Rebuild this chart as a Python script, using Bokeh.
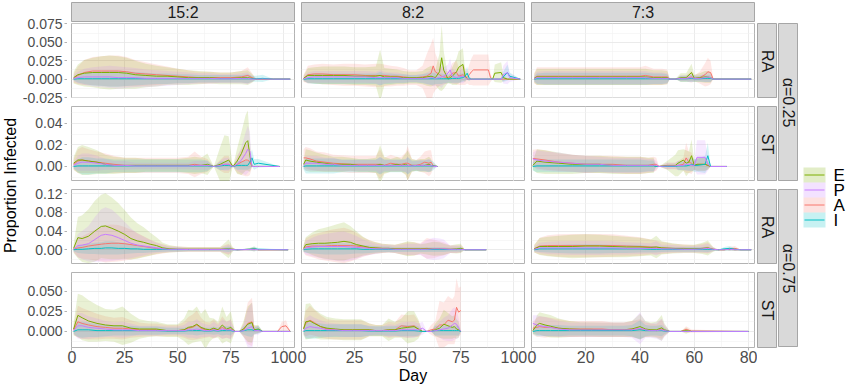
import math
from bokeh.plotting import figure
from bokeh.layouts import row, column
from bokeh.models import Range1d, FixedTicker, PrintfTickFormatter, ColumnDataSource
from bokeh.embed import file_html
from bokeh.resources import INLINE
from bokeh.core.properties import value

# ---------------- facets / labels ----------------
col_labels = ["15:2", "8:2", "7:3"]
row_labels = ["RA", "ST", "RA", "ST"]
alpha_labels = ["\u03b1=0.25", "\u03b1=0.75"]
legend_order = ["E", "P", "A", "I"]
draw_order = ["A", "E", "I", "P"]
colors = {"A": "#F8766D", "E": "#7CAE00", "I": "#00BFC4", "P": "#C77CFF"}
x_ticks = [[0, 25, 50, 75, 100], [0, 25, 50, 75, 100], [0, 20, 40, 60, 80]]
x_minor = [[12.5, 37.5, 62.5, 87.5], [12.5, 37.5, 62.5, 87.5], [10, 30, 50, 70]]
x_lims = [(0, 105), (0, 105), (0, 82.2)]
y_ticks = [[-0.025, 0.0, 0.025, 0.05, 0.075], [0.0, 0.02, 0.04], [0.0, 0.04, 0.08, 0.12], [0.0, 0.025, 0.05]]
y_minor = [[-0.0125, 0.0125, 0.0375, 0.0625], [-0.01, 0.01, 0.03, 0.05], [-0.02, 0.02, 0.06, 0.10], [-0.0125, 0.0125, 0.0375, 0.0625]]
y_fmt = ["%.3f", "%.2f", "%.2f", "%.3f"]
y_lims = [(-0.0263, 0.0755), (-0.014, 0.0558), (-0.0315, 0.129), (-0.020, 0.0733)]

# ---------------- data: 15:2, alpha=0.25, RA ----------------
day_00 = [1,3,6,10,14,18,22,26,30,35, 40,45,50,55,60,65,70,75,80,83, 85,87,90,95,103]
E_00 = [0.002,0.006,0.008,0.009,0.009,0.009,0.009,0.008,0.006,0.005, 0.004,0.004,0.003,0.002,0.002,0.002,0.001,0.001,0.002,0.002, 0.001,0,0,0,0]
P_00 = [0.001,0.002,0.003,0.003,0.003,0.003,0.002,0.002,0.002,0.001, 0.001,0.001,0.001,0.001,0.001,0.001,0.0005,0.0005,0.001,0.001, 0,0,0,0,0]
A_00 = [0.001,0.005,0.009,0.011,0.011,0.011,0.011,0.010,0.008,0.007, 0.006,0.005,0.004,0.003,0.002,0.002,0.002,0.002,0.003,0.005, 0.002,0,0,0,0]
I_00 = [0,0.0005,0.0005,0.0005,0.0005,0.0005,0.0005,0.0005,0.0005,0.0005, 0.0005,0.0005,0.0005,0.0005,0.0005,0.0005,0.0005,0.0005,0.0005,0.0005, 0.0005,0.0005,0.001,0,0]
Esd_00 = [0.008,0.014,0.018,0.020,0.022,0.023,0.022,0.021,0.019,0.016, 0.014,0.012,0.011,0.010,0.009,0.008,0.008,0.008,0.009,0.010, 0.006,0,0,0,0]
Psd_00 = [0.004,0.008,0.011,0.013,0.014,0.015,0.015,0.014,0.013,0.012, 0.011,0.010,0.009,0.008,0.007,0.007,0.006,0.006,0.007,0.008, 0.004,0,0,0,0]
Asd_00 = [0.006,0.012,0.017,0.019,0.020,0.021,0.021,0.020,0.018,0.016, 0.014,0.012,0.010,0.009,0.008,0.008,0.007,0.007,0.008,0.011, 0.006,0,0,0,0]
Isd_00 = [0.002,0.005,0.007,0.009,0.010,0.011,0.011,0.010,0.009,0.008, 0.007,0.007,0.006,0.006,0.005,0.005,0.005,0.005,0.005,0.006, 0.004,0.004,0.005,0,0]

# ---------------- 15:2, alpha=0.25, ST ----------------
day_10 = [1,3,5,8,12,16,20,25,30,35, 40,45,50,55,58,61,64,67,70,72, 74,76,78,80,82,83,84,85,86,88, 98]
E_10 = [0.003,0.006,0.006,0.005,0.004,0.002,0.001,0.001,0.001,0.001, 0.001,0.001,0.001,0.001,0.001,0.001,0.002,0,0.002,0.004, 0.006,0,0.005,0.012,0.022,0.024,0.010,0,0,0, 0]
P_10 = [0.001,0.003,0.004,0.004,0.003,0.002,0.001,0.001,0.0005,0.0005, 0.0005,0.0005,0.0005,0.0005,0.001,0.001,0.001,0,0.001,0.002, 0.002,0,0.002,0.006,0.012,0.016,0.014,0,0,0, 0]
A_10 = [0.002,0.005,0.006,0.005,0.004,0.003,0.002,0.001,0.001,0.001, 0.001,0.001,0.001,0.001,0.002,0.001,0.001,0,0.001,0.002, 0.002,0,0.002,0.004,0.006,0.006,0.004,0,0,0, 0]
I_10 = [0,0.0005,0.0005,0.0005,0.0005,0.0005,0.0005,0.0005,0.0005,0.0005, 0.0005,0.0005,0.0005,0.0005,0.0005,0.0005,0.0005,0,0.0005,0.001, 0.001,0,0.001,0.001,0.001,0.001,0.004,0.008,0.002,0.003, 0]
Esd_10 = [0.006,0.012,0.014,0.013,0.011,0.009,0.008,0.007,0.007,0.006, 0.006,0.006,0.006,0.007,0.008,0.007,0.010,0,0.016,0.025, 0.022,0,0.012,0.020,0.026,0.028,0.015,0,0,0, 0]
Psd_10 = [0.003,0.007,0.008,0.008,0.007,0.005,0.004,0.004,0.003,0.003, 0.003,0.003,0.003,0.003,0.004,0.004,0.004,0,0.004,0.006, 0.006,0,0.006,0.012,0.020,0.022,0.018,0,0,0, 0]
Asd_10 = [0.005,0.011,0.012,0.011,0.010,0.009,0.008,0.007,0.007,0.007, 0.007,0.007,0.007,0.008,0.012,0.008,0.006,0,0.005,0.008, 0.008,0,0.008,0.012,0.015,0.015,0.012,0,0,0, 0]
Isd_10 = [0.002,0.006,0.008,0.008,0.007,0.007,0.006,0.006,0.006,0.006, 0.006,0.006,0.006,0.006,0.006,0.006,0.005,0,0.004,0.004, 0.004,0,0.004,0.004,0.004,0.004,0.006,0.008,0.005,0.004, 0]

# ---------------- 15:2, alpha=0.75, RA ----------------
day_20 = [1,3,5,8,11,14,16,19,22,25, 28,31,34,37,40,43,46,50,55,60, 65,70,74,76,78,84,86,88,102]
E_20 = [0.003,0.026,0.024,0.029,0.040,0.050,0.051,0.046,0.040,0.033, 0.024,0.019,0.016,0.012,0.009,0.004,0.002,0.001,0.001,0.001, 0.001,0.001,0.002,0.001,0,0.001,0.002,0,0]
P_20 = [0.001,0.009,0.010,0.013,0.022,0.031,0.033,0.031,0.026,0.020, 0.014,0.010,0.008,0.006,0.004,0.002,0.001,0.001,0.0005,0.0005, 0.0005,0.0005,0.001,0.0005,0,0.0005,0.001,0,0]
A_20 = [0.001,0.004,0.005,0.008,0.010,0.012,0.013,0.014,0.014,0.013, 0.011,0.009,0.007,0.005,0.003,0.002,0.001,0.001,0.001,0.001, 0.001,0.001,0.001,0.001,0,0.0005,0.001,0,0]
I_20 = [0,0.001,0.001,0.002,0.003,0.003,0.004,0.004,0.003,0.003, 0.002,0.002,0.001,0.001,0.001,0.001,0.0005,0.0005,0.0005,0.0005, 0.0005,0.0005,0.001,0.0005,0,0.001,0.002,0.001,0]
Esd_20 = [0.010,0.044,0.050,0.058,0.065,0.068,0.070,0.066,0.060,0.052, 0.045,0.038,0.032,0.025,0.018,0.011,0.008,0.006,0.005,0.005, 0.005,0.005,0.020,0.004,0,0.003,0.005,0,0]
Psd_20 = [0.005,0.025,0.030,0.038,0.048,0.056,0.058,0.055,0.048,0.040, 0.032,0.025,0.020,0.015,0.011,0.008,0.006,0.005,0.004,0.004, 0.004,0.004,0.010,0.003,0,0.002,0.004,0,0]
Asd_20 = [0.006,0.020,0.024,0.028,0.033,0.037,0.040,0.040,0.039,0.036, 0.032,0.027,0.022,0.017,0.013,0.010,0.007,0.006,0.005,0.005, 0.005,0.005,0.012,0.003,0,0.002,0.004,0,0]
Isd_20 = [0.003,0.008,0.009,0.011,0.012,0.013,0.014,0.014,0.013,0.012, 0.010,0.009,0.008,0.007,0.006,0.005,0.004,0.004,0.003,0.003, 0.003,0.003,0.006,0.003,0,0.003,0.005,0.003,0]

# ---------------- 15:2, alpha=0.75, ST ----------------
day_30 = [1,3,5,8,12,16,20,24,28,32, 36,40,45,50,53,55,57,59,61,63, 65,67,69,71,73,75,77,79,81,83, 85,86,88,90,97,99,101,103]
E_30 = [0.003,0.020,0.017,0.013,0.010,0.008,0.007,0.007,0.004,0.003, 0.003,0.003,0.001,0.001,0.002,0.005,0.006,0.009,0.005,0.003, 0.002,0.004,0.002,0.008,0.003,0.005,0,0,0.003,0.009, 0.011,0.002,0.003,0,0,0,0,0]
P_30 = [0.001,0.007,0.007,0.005,0.004,0.003,0.002,0.002,0.002,0.001, 0.001,0.001,0.001,0.001,0.001,0.002,0.002,0.003,0.002,0.001, 0.001,0.002,0.001,0.003,0.002,0.002,0,0,0.001,0.004, 0.006,0.001,0.001,0,0,0,0,0]
A_30 = [0.002,0.012,0.010,0.008,0.006,0.005,0.004,0.004,0.003,0.002, 0.002,0.002,0.001,0.001,0.002,0.004,0.005,0.008,0.004,0.002, 0.002,0.003,0.002,0.005,0.002,0.003,0,0,0.002,0.010, 0.012,0.002,0.002,0,0,0.006,0.007,0]
I_30 = [0,0.002,0.002,0.002,0.001,0.001,0.001,0.001,0.001,0.001, 0.001,0.001,0.0005,0.0005,0.0005,0.001,0.001,0.001,0.001,0.0005, 0.0005,0.001,0.0005,0.001,0.001,0.001,0,0,0.001,0.002, 0.002,0.001,0.002,0,0,0,0,0]
Esd_30 = [0.008,0.027,0.028,0.026,0.023,0.020,0.020,0.024,0.018,0.012, 0.010,0.009,0.008,0.008,0.014,0.022,0.020,0.022,0.017,0.025, 0.015,0.012,0.010,0.023,0.015,0.020,0,0,0.010,0.022, 0.025,0.006,0.005,0,0,0,0,0]
Psd_30 = [0.004,0.016,0.016,0.014,0.012,0.010,0.009,0.010,0.008,0.006, 0.006,0.006,0.005,0.005,0.007,0.010,0.010,0.012,0.009,0.008, 0.007,0.010,0.007,0.012,0.010,0.012,0,0,0.008,0.024, 0.030,0.005,0.005,0,0,0,0,0]
Asd_30 = [0.006,0.020,0.019,0.018,0.016,0.014,0.013,0.014,0.011,0.009, 0.008,0.008,0.007,0.007,0.010,0.014,0.016,0.018,0.013,0.010, 0.009,0.012,0.008,0.014,0.010,0.012,0,0,0.008,0.026, 0.030,0.005,0.004,0,0,0.006,0.007,0]
Isd_30 = [0.003,0.009,0.010,0.009,0.008,0.007,0.006,0.006,0.006,0.005, 0.005,0.005,0.004,0.004,0.004,0.005,0.005,0.006,0.005,0.004, 0.004,0.005,0.004,0.006,0.005,0.006,0,0,0.005,0.008, 0.009,0.004,0.005,0,0,0,0,0]

# ---------------- 8:2, alpha=0.25, RA ----------------
day_01 = [1,3,6,10,15,20,25,30,35,37, 39,42,45,48,51,54,57,59,61,62, 63,65,66,67,69,70,71,73,74,76, 77,78,79,80,81,88,89,90,91,94, 95,97,98,103]
E_01 = [0.001,0.005,0.005,0.005,0.005,0.005,0.004,0.004,0.004,0.005, 0.003,0.003,0.003,0.002,0.002,0.002,0.002,0.003,0.004,0.003, 0.002,0.010,0.029,0.012,0,0.002,0.004,0.010,0.016,0.020, 0.004,0,0,0,0,0,0,0,0.008,0.009, 0.002,0,0,0]
P_01 = [0.0005,0.002,0.003,0.003,0.003,0.003,0.003,0.003,0.002,0.002, 0.002,0.002,0.002,0.001,0.001,0.001,0.001,0.001,0.002,0.002, 0.001,0.002,0.003,0.004,0.008,0.0125,0.004,0.002,0.003,0.004, 0.002,0,0,0,0,0,0,0,0,0, 0.006,0.009,0.002,0]
A_01 = [0.001,0.006,0.007,0.007,0.006,0.006,0.006,0.005,0.005,0.005, 0.005,0.004,0.004,0.003,0.002,0.002,0.003,0.004,0.008,0.018, 0.010,0.006,0.004,0.003,0.002,0.004,0.008,0.009,0.004,0.006, 0.004,0.002,0.006,0.010,0.0125,0.0125,0.002,0,0,0, 0,0,0,0]
I_01 = [0,0.0005,0.0005,0.0005,0.0005,0.0005,0.0005,0.0005,0.0005,0.0005, 0.0005,0.0005,0.0005,0.0005,0.0005,0.0005,0.0005,0.0005,0.0005,0.0005, 0.0005,0.0005,0.0005,0.0005,0.0005,0.0005,0.001,0.001,0.001,0.002, 0.004,0.008,0.001,0,0,0,0,0,0,0, 0.003,0.009,0.004,0]
Esd_01 = [0.004,0.010,0.011,0.012,0.012,0.012,0.012,0.012,0.013,0.035, 0.012,0.011,0.010,0.009,0.008,0.008,0.009,0.012,0.014,0.012, 0.010,0.025,0.045,0.025,0.005,0.008,0.012,0.018,0.022,0.022, 0.008,0,0,0,0,0,0,0,0.012,0.014, 0.005,0,0,0]
Psd_01 = [0.003,0.007,0.008,0.008,0.008,0.008,0.008,0.008,0.008,0.010, 0.008,0.007,0.007,0.006,0.005,0.005,0.006,0.008,0.010,0.012, 0.010,0.012,0.015,0.012,0.012,0.016,0.010,0.008,0.008,0.010, 0.006,0,0,0,0,0,0,0,0,0, 0.012,0.016,0.006,0]
Asd_01 = [0.005,0.012,0.013,0.014,0.014,0.015,0.015,0.015,0.016,0.016, 0.015,0.014,0.013,0.012,0.010,0.010,0.015,0.030,0.040,0.038, 0.025,0.015,0.012,0.010,0.008,0.010,0.014,0.016,0.012,0.014, 0.012,0.008,0.014,0.018,0.021,0.021,0.006,0,0,0, 0,0,0,0]
Isd_01 = [0.002,0.006,0.007,0.007,0.007,0.007,0.007,0.007,0.007,0.009, 0.007,0.007,0.006,0.006,0.005,0.005,0.006,0.007,0.008,0.008, 0.007,0.007,0.007,0.006,0.006,0.006,0.006,0.006,0.006,0.006, 0.006,0.009,0.004,0,0,0,0,0,0,0, 0.007,0.011,0.005,0]

# ---------------- 8:2, alpha=0.25, ST ----------------
day_11 = [1,2,4,7,11,15,19,23,27,31, 35,37,39,42,45,47,49,50,52,54, 56,58,60,61,62,64]
E_11 = [0.002,0.006,0.005,0.004,0.003,0.002,0.002,0.002,0.001,0.001, 0.001,0.002,0.001,0.001,0.002,0.001,0.002,0.001,0.001,0.001, 0.001,0.001,0.002,0.001,0,0]
P_11 = [0.001,0.003,0.003,0.003,0.002,0.002,0.001,0.001,0.001,0.001, 0.001,0.001,0.001,0.001,0.001,0.001,0.001,0.001,0.0005,0.001, 0.001,0.001,0.001,0.001,0,0]
A_11 = [0.008,0.008,0.007,0.005,0.004,0.003,0.0025,0.002,0.002,0.002, 0.002,0.002,0.001,0.003,0.002,0.002,0.003,0.003,0.001,0.001, 0.002,0.004,0.003,0.004,0.001,0]
I_11 = [0,0.0005,0.0005,0.0005,0.0005,0.0005,0.0005,0.0005,0.0005,0.0005, 0.0005,0.0005,0.0005,0.0005,0.0005,0.0005,0.0005,0.0005,0.0005,0.0005, 0.0005,0.0005,0.0005,0.0005,0.0005,0]
Esd_11 = [0.004,0.010,0.010,0.009,0.008,0.007,0.007,0.006,0.006,0.006, 0.007,0.018,0.008,0.006,0.007,0.006,0.010,0.014,0.006,0.005, 0.006,0.006,0.007,0.006,0,0]
Psd_11 = [0.003,0.007,0.007,0.007,0.006,0.006,0.005,0.005,0.005,0.005, 0.005,0.008,0.005,0.005,0.005,0.005,0.006,0.008,0.004,0.004, 0.005,0.005,0.006,0.005,0,0]
Asd_11 = [0.008,0.010,0.010,0.009,0.009,0.008,0.008,0.008,0.008,0.008, 0.008,0.014,0.007,0.008,0.007,0.007,0.010,0.016,0.006,0.005, 0.007,0.010,0.012,0.011,0.003,0]
Isd_11 = [0.003,0.007,0.007,0.007,0.007,0.007,0.006,0.006,0.006,0.006, 0.006,0.008,0.006,0.006,0.006,0.006,0.006,0.008,0.005,0.005, 0.005,0.005,0.006,0.005,0.004,0]

# ---------------- 8:2, alpha=0.75, RA ----------------
day_21 = [1,2,5,8,11,14,17,20,23,26, 29,32,35,38,41,44,47,50,53,56, 59,62,65,67,70,73,75,77,87]
E_21 = [0.003,0.011,0.013,0.014,0.014,0.015,0.016,0.018,0.016,0.011, 0.008,0.005,0.004,0.003,0.003,0.002,0.002,0.002,0.002,0.002, 0.002,0.002,0.002,0.001,0.001,0.002,0.003,0,0]
P_21 = [0.001,0.004,0.006,0.007,0.007,0.007,0.007,0.007,0.006,0.005, 0.004,0.003,0.002,0.002,0.002,0.001,0.001,0.001,0.001,0.001, 0.001,0.002,0.002,0.002,0.001,0.001,0.001,0,0]
A_21 = [0.002,0.006,0.008,0.008,0.008,0.009,0.009,0.009,0.009,0.008, 0.006,0.005,0.004,0.003,0.003,0.002,0.002,0.002,0.002,0.002, 0.003,0.002,0.002,0.002,0.001,0.001,0.002,0,0]
I_21 = [0,0.001,0.002,0.002,0.002,0.002,0.002,0.002,0.002,0.002, 0.001,0.001,0.001,0.001,0.001,0.0005,0.0005,0.0005,0.0005,0.0005, 0.0005,0.0005,0.0005,0.0005,0.0005,0.0005,0.001,0,0]
Esd_21 = [0.008,0.016,0.024,0.030,0.033,0.036,0.039,0.041,0.035,0.028, 0.020,0.015,0.012,0.010,0.009,0.009,0.012,0.016,0.014,0.010, 0.012,0.015,0.014,0.012,0.008,0.010,0.010,0,0]
Psd_21 = [0.006,0.014,0.020,0.024,0.027,0.029,0.031,0.032,0.029,0.024, 0.018,0.014,0.011,0.009,0.008,0.008,0.010,0.012,0.012,0.012, 0.020,0.024,0.022,0.020,0.008,0.008,0.006,0,0]
Asd_21 = [0.008,0.018,0.024,0.028,0.031,0.034,0.036,0.038,0.034,0.028, 0.021,0.016,0.012,0.010,0.009,0.009,0.012,0.014,0.014,0.012, 0.022,0.020,0.016,0.014,0.008,0.008,0.008,0,0]
Isd_21 = [0.004,0.008,0.010,0.011,0.012,0.012,0.012,0.012,0.011,0.010, 0.009,0.008,0.007,0.006,0.006,0.005,0.005,0.005,0.005,0.005, 0.005,0.005,0.005,0.005,0.004,0.004,0.005,0,0]

# ---------------- 8:2, alpha=0.75, ST ----------------
day_31 = [1,2,4,6,9,12,16,20,24,28, 32,35,38,41,44,47,50,53,55,57, 59,61,63,65,67,69,71,72,73,74, 75]
E_31 = [0.003,0.012,0.013,0.010,0.006,0.004,0.003,0.002,0.002,0.002, 0.002,0.001,0.001,0.002,0.002,0.004,0.005,0.006,0.003,0, 0,0,0.002,0.004,0.009,0.007,0.005,0.006,0.003,0.002, 0]
P_31 = [0.001,0.004,0.006,0.005,0.004,0.002,0.002,0.001,0.001,0.001, 0.001,0.001,0.001,0.001,0.001,0.002,0.002,0.002,0.002,0.004, 0,0,0.001,0.002,0.003,0.004,0.008,0.010,0.009,0.004, 0]
A_31 = [0.004,0.010,0.014,0.011,0.006,0.003,0.002,0.002,0.002,0.002, 0.002,0.001,0.001,0.002,0.002,0.007,0.006,0.007,0.003,0, 0,0.002,0.003,0.008,0.008,0.014,0.012,0.014,0.030,0.024, 0.026]
I_31 = [0,0.001,0.001,0.001,0.001,0.001,0.001,0.001,0.001,0.001, 0.0005,0.0005,0.0005,0.0005,0.0005,0.001,0.001,0.001,0.0005,0, 0,0,0.001,0.001,0.001,0.001,0.001,0.001,0.001,0.001, 0]
Esd_31 = [0.008,0.022,0.022,0.018,0.016,0.014,0.013,0.013,0.013,0.013, 0.008,0.007,0.007,0.014,0.010,0.012,0.020,0.019,0.012,0, 0,0,0.008,0.012,0.018,0.016,0.014,0.014,0.012,0.010, 0]
Psd_31 = [0.004,0.012,0.014,0.012,0.010,0.009,0.008,0.008,0.008,0.008, 0.006,0.005,0.005,0.008,0.007,0.009,0.010,0.010,0.008,0.008, 0,0,0.006,0.010,0.014,0.016,0.020,0.020,0.018,0.012, 0]
Asd_31 = [0.008,0.016,0.018,0.016,0.014,0.012,0.012,0.012,0.012,0.012, 0.008,0.007,0.007,0.010,0.009,0.014,0.014,0.014,0.010,0, 0,0.006,0.010,0.030,0.028,0.030,0.028,0.030,0.036,0.030, 0.030]
Isd_31 = [0.003,0.010,0.010,0.010,0.009,0.008,0.008,0.008,0.008,0.008, 0.006,0.006,0.006,0.006,0.006,0.007,0.007,0.007,0.006,0, 0,0,0.006,0.006,0.006,0.006,0.006,0.006,0.006,0.006, 0]

# ---------------- 7:3, alpha=0.25, RA ----------------
day_02 = [1,2,5,10,15,20,25,30,35,40, 42,45,48,50,51,53,55,57,59,60, 62,64,65,66,67,81]
E_02 = [0.001,0.003,0.003,0.003,0.003,0.003,0.003,0.003,0.003,0.003, 0.003,0.002,0.002,0.002,0,0,0.002,0.002,0.009,0.001, 0.002,0.003,0.003,0.002,0,0]
P_02 = [0.0005,0.002,0.002,0.002,0.002,0.002,0.002,0.002,0.002,0.002, 0.002,0.001,0.001,0.001,0,0,0.001,0.001,0.002,0.001, 0.001,0.002,0.003,0.002,0,0]
A_02 = [0.001,0.004,0.004,0.004,0.004,0.004,0.004,0.004,0.004,0.004, 0.005,0.003,0.003,0.003,0,0,0.001,0.001,0.003,0.001, 0.002,0.006,0.010,0.009,0,0]
I_02 = [0,0.0005,0.0005,0.0005,0.0005,0.0005,0.0005,0.0005,0.0005,0.0005, 0.0005,0.0005,0.0005,0.0005,0,0,0.0005,0.0005,0.001,0.0005, 0.0005,0.001,0.001,0.001,0,0]
Esd_02 = [0.006,0.011,0.011,0.011,0.011,0.011,0.011,0.011,0.011,0.011, 0.011,0.010,0.010,0.009,0,0,0.006,0.006,0.012,0.005, 0.006,0.008,0.008,0.007,0,0]
Psd_02 = [0.004,0.008,0.009,0.009,0.009,0.009,0.009,0.009,0.009,0.009, 0.009,0.008,0.008,0.007,0,0,0.004,0.004,0.006,0.004, 0.004,0.006,0.007,0.006,0,0]
Asd_02 = [0.007,0.012,0.012,0.012,0.012,0.012,0.012,0.012,0.012,0.012, 0.013,0.011,0.011,0.010,0,0,0.004,0.004,0.008,0.004, 0.008,0.016,0.019,0.016,0,0]
Isd_02 = [0.003,0.007,0.008,0.008,0.008,0.008,0.008,0.008,0.008,0.008, 0.008,0.007,0.007,0.006,0,0,0.004,0.004,0.005,0.004, 0.004,0.005,0.005,0.005,0,0]

# ---------------- 7:3, alpha=0.25, ST ----------------
day_12 = [0.5,2,5,10,15,20,25,30,35,40, 43,45,46,47,50,53,54,56,57,58, 59,60,61,64,65,66,72]
E_12 = [0.001,0.005,0.004,0.003,0.002,0.002,0.002,0.001,0.001,0.001, 0.001,0.001,0,0,0.001,0.001,0.003,0.006,0.003,0.004, 0.010,0.001,0.002,0.002,0.001,0,0]
P_12 = [0.007,0.006,0.005,0.004,0.003,0.002,0.002,0.001,0.001,0.001, 0.001,0.001,0.001,0,0.0005,0.0005,0.001,0.001,0.002,0.002, 0.001,0.001,0.0085,0.0085,0.002,0,0]
A_12 = [0.0075,0.007,0.006,0.004,0.003,0.002,0.002,0.002,0.001,0.001, 0.001,0.002,0.002,0,0.0005,0.0005,0.001,0.002,0.008,0.004, 0.003,0.001,0.002,0.002,0.001,0,0]
I_12 = [0,0.0005,0.0005,0.0005,0.0005,0.0005,0.0005,0.0005,0.0005,0.0005, 0.0005,0.0005,0,0,0,0,0.0005,0.0005,0.0005,0.001, 0.002,0.001,0.001,0.002,0.010,0,0]
Esd_12 = [0.004,0.011,0.011,0.010,0.009,0.008,0.008,0.008,0.008,0.008, 0.007,0.007,0,0,0.004,0.010,0.012,0.010,0.012,0.010, 0.015,0.004,0.006,0.006,0.004,0,0]
Psd_12 = [0.006,0.009,0.009,0.009,0.008,0.008,0.007,0.007,0.007,0.007, 0.006,0.006,0.004,0,0.003,0.003,0.004,0.004,0.006,0.006, 0.005,0.004,0.016,0.016,0.006,0,0]
Asd_12 = [0.008,0.009,0.009,0.008,0.008,0.008,0.008,0.008,0.008,0.008, 0.007,0.007,0.006,0,0.003,0.003,0.004,0.006,0.014,0.010, 0.010,0.004,0.006,0.006,0.004,0,0]
Isd_12 = [0.004,0.006,0.006,0.006,0.006,0.006,0.006,0.006,0.006,0.006, 0.005,0.005,0,0,0,0,0.004,0.004,0.004,0.005, 0.006,0.006,0.006,0.008,0.012,0,0]

# ---------------- 7:3, alpha=0.75, RA ----------------
day_22 = [1,3,6,10,15,20,25,30,35,40, 44,46,48,52,56,60,63,65,67,69, 71,73,75,77,81]
E_22 = [0.002,0.007,0.007,0.007,0.007,0.008,0.008,0.007,0.006,0.006, 0.005,0.006,0.004,0.003,0.002,0.002,0.003,0.004,0.001,0, 0,0.001,0,0,0]
P_22 = [0.001,0.004,0.004,0.004,0.004,0.004,0.004,0.004,0.003,0.003, 0.003,0.003,0.002,0.002,0.001,0.001,0.002,0.003,0.001,0, 0,0.001,0,0,0]
A_22 = [0.002,0.008,0.009,0.009,0.009,0.009,0.009,0.009,0.008,0.007, 0.006,0.005,0.004,0.003,0.003,0.002,0.003,0.004,0.001,0, 0,0.002,0.003,0,0]
I_22 = [0,0.002,0.002,0.002,0.002,0.002,0.002,0.002,0.002,0.002, 0.001,0.001,0.001,0.001,0.001,0.001,0.001,0.001,0.0005,0, 0.002,0.003,0.001,0,0]
Esd_22 = [0.008,0.018,0.021,0.023,0.025,0.025,0.024,0.023,0.022,0.020, 0.017,0.024,0.014,0.011,0.009,0.009,0.012,0.016,0.005,0, 0,0.003,0,0,0]
Psd_22 = [0.005,0.011,0.013,0.014,0.015,0.015,0.015,0.014,0.013,0.012, 0.011,0.015,0.009,0.008,0.007,0.007,0.008,0.010,0.004,0, 0,0.003,0,0,0]
Asd_22 = [0.008,0.018,0.022,0.024,0.025,0.025,0.025,0.024,0.022,0.020, 0.016,0.015,0.013,0.010,0.009,0.008,0.010,0.012,0.004,0, 0,0.004,0.005,0,0]
Isd_22 = [0.003,0.007,0.008,0.009,0.010,0.010,0.010,0.009,0.009,0.008, 0.007,0.007,0.006,0.005,0.005,0.005,0.005,0.006,0.003,0, 0.004,0.005,0.003,0,0]

# ---------------- 7:3, alpha=0.75, ST ----------------
day_32 = [0.5,2,3,5,7,10,14,18,22,26, 30,34,37,40,42,44,46,48,49,51, 55,57,59,80]
E_32 = [0.001,0.008,0.010,0.008,0.0065,0.004,0.003,0.0025,0.0025,0.002, 0.002,0.002,0.003,0.006,0.003,0.002,0.002,0.0045,0.002,0, 0,0.001,0,0]
P_32 = [0.010,0.008,0.007,0.006,0.005,0.003,0.002,0.002,0.002,0.002, 0.002,0.002,0.002,0.004,0.002,0.001,0.001,0.002,0.001,0, 0,0,0,0]
A_32 = [0.004,0.005,0.006,0.005,0.005,0.004,0.003,0.003,0.003,0.003, 0.002,0.002,0.003,0.003,0.002,0.002,0.001,0.003,0.001,0, 0,0.0025,0.0005,0]
I_32 = [0,0.001,0.001,0.001,0.001,0.001,0.001,0.001,0.001,0.001, 0.001,0.001,0.001,0.002,0.001,0.001,0.001,0.001,0.0005,0, 0,0,0,0]
Esd_32 = [0.004,0.012,0.014,0.014,0.014,0.012,0.010,0.009,0.009,0.009, 0.009,0.009,0.010,0.016,0.010,0.009,0.010,0.016,0.008,0, 0,0.004,0,0]
Psd_32 = [0.010,0.012,0.012,0.012,0.011,0.010,0.009,0.009,0.009,0.009, 0.009,0.009,0.010,0.020,0.010,0.009,0.010,0.014,0.008,0, 0,0,0,0]
Asd_32 = [0.008,0.012,0.013,0.013,0.012,0.011,0.010,0.010,0.010,0.010, 0.009,0.009,0.010,0.012,0.009,0.008,0.008,0.012,0.006,0, 0,0.004,0.002,0]
Isd_32 = [0.003,0.007,0.007,0.007,0.007,0.007,0.006,0.006,0.006,0.006, 0.006,0.006,0.007,0.012,0.007,0.006,0.006,0.007,0.004,0, 0,0,0,0]


def pack(day, E, P, A, I, Esd, Psd, Asd, Isd):
    return dict(day=day, mean=dict(E=E, P=P, A=A, I=I), sd=dict(E=Esd, P=Psd, A=Asd, I=Isd))


PANELS = {
    (0, 0): pack(day_00, E_00, P_00, A_00, I_00, Esd_00, Psd_00, Asd_00, Isd_00),
    (1, 0): pack(day_10, E_10, P_10, A_10, I_10, Esd_10, Psd_10, Asd_10, Isd_10),
    (2, 0): pack(day_20, E_20, P_20, A_20, I_20, Esd_20, Psd_20, Asd_20, Isd_20),
    (3, 0): pack(day_30, E_30, P_30, A_30, I_30, Esd_30, Psd_30, Asd_30, Isd_30),
    (0, 1): pack(day_01, E_01, P_01, A_01, I_01, Esd_01, Psd_01, Asd_01, Isd_01),
    (1, 1): pack(day_11, E_11, P_11, A_11, I_11, Esd_11, Psd_11, Asd_11, Isd_11),
    (2, 1): pack(day_21, E_21, P_21, A_21, I_21, Esd_21, Psd_21, Asd_21, Isd_21),
    (3, 1): pack(day_31, E_31, P_31, A_31, I_31, Esd_31, Psd_31, Asd_31, Isd_31),
    (0, 2): pack(day_02, E_02, P_02, A_02, I_02, Esd_02, Psd_02, Asd_02, Isd_02),
    (1, 2): pack(day_12, E_12, P_12, A_12, I_12, Esd_12, Psd_12, Asd_12, Isd_12),
    (2, 2): pack(day_22, E_22, P_22, A_22, I_22, Esd_22, Psd_22, Asd_22, Isd_22),
    (3, 2): pack(day_32, E_32, P_32, A_32, I_32, Esd_32, Psd_32, Asd_32, Isd_32),
}

# ---------------- layout constants (pixels) ----------------
FONT = "Liberation Sans"
FW, FH = 223, 75          # panel frame size
PAD_L, PAD_R = 4, 3       # horizontal padding around each panel frame (gap = 7)
GAPY = 8
TOP0 = 2                  # space above the column strips
STRIP_H = 20
BOTTOM_AX = 19
TITLE_W = 19
YAX_W = 48                # y-axis figure width (frame of 2 px at its right edge)
YAX_FRAME = 2
DAY_H = 18
RSW = 20                  # right strip widths
FILL_ALPHA = 0.17
STRIP_FILL = "#D9D9D9"
STRIP_LINE = "#A6A6A6"
PANEL_LINE = "#B3B3B3"
TICK_COL = "#4D4D4D"

TOTAL_H = TOP0 + STRIP_H + 1 + 4 * FH + 3 * GAPY + BOTTOM_AX + DAY_H
panel_top = TOP0 + STRIP_H + 1
panel_bottom = panel_top + 4 * FH + 3 * GAPY


def base_fig(width, height, left=0, top=0, bottom=0, right=0, xr=(0, 1), yr=(0, 1), xloc=None, yloc=None):
    f = figure(width=width, height=height, x_range=Range1d(*xr), y_range=Range1d(*yr),
               x_axis_location=xloc, y_axis_location=yloc, title=None,
               output_backend="svg", toolbar_location=None,
               min_border_left=left, min_border_right=right,
               min_border_top=top, min_border_bottom=bottom)
    f.border_fill_color = "white"
    f.background_fill_color = "white"
    return f


def style_axis(a, size):
    a.axis_line_color = None
    a.major_tick_line_color = PANEL_LINE
    a.major_tick_out = 3
    a.major_tick_in = 0
    a.minor_tick_line_color = None
    a.major_label_text_font = FONT
    a.major_label_text_font_size = size
    a.major_label_text_color = TICK_COL


def strip_fig(text, width, height, left=0, top=0, bottom=0, right=0, angle=0.0):
    s = base_fig(width, height, left=left, top=top, bottom=bottom, right=right)
    s.grid.visible = False
    s.background_fill_color = STRIP_FILL
    s.outline_line_color = STRIP_LINE
    s.outline_line_width = 1
    s.text(x=[0.5], y=[0.5], text=[text], angle=angle, text_align="center", text_baseline="middle",
           text_font=value(FONT), text_font_size="16px", text_color="#1A1A1A")
    return s


def row_top(r):
    return 1 if r == 0 else GAPY


def row_bottom(r):
    return BOTTOM_AX if r == 3 else 0


def panel_fig(r, c):
    top, bottom = row_top(r), row_bottom(r)
    p = base_fig(PAD_L + FW + PAD_R, top + FH + bottom, left=PAD_L, right=PAD_R, top=top, bottom=bottom,
                 xr=x_lims[c], yr=y_lims[r], xloc="below" if r == 3 else None)
    p.outline_line_color = PANEL_LINE
    p.outline_line_width = 1
    p.xgrid.ticker = FixedTicker(ticks=x_ticks[c], minor_ticks=x_minor[c])
    p.ygrid.ticker = FixedTicker(ticks=y_ticks[r], minor_ticks=y_minor[r])
    for g in (p.xgrid, p.ygrid):
        g.grid_line_color = "#E6E6E6"
        g.grid_line_width = 0.8
        g.minor_grid_line_color = "#F1F1F1"
        g.minor_grid_line_width = 0.6
    if r == 3:
        ax = p.xaxis[0]
        ax.ticker = FixedTicker(ticks=x_ticks[c])
        ax.major_label_standoff = 0
        style_axis(ax, "16px")

    d = PANELS[(r, c)]
    srcs = {}
    for s in draw_order:
        m = d["mean"][s]
        sd = d["sd"][s]
        n = min(len(d["day"]), len(m), len(sd))
        srcs[s] = ColumnDataSource(dict(
            x=d["day"][:n], y=m[:n],
            lo=[m[i] - sd[i] for i in range(n)],
            hi=[m[i] + sd[i] for i in range(n)]))
    for s in draw_order:
        p.varea(x="x", y1="lo", y2="hi", source=srcs[s], fill_color=colors[s], fill_alpha=FILL_ALPHA)
    for s in draw_order:
        p.line(x="x", y="y", source=srcs[s], line_color=colors[s], line_width=1)
    return p


# ---------------- y axes (separate narrow figures so edge labels have room) ----------------
ya_pads = [(panel_top, GAPY), (0, 0), (GAPY, 0), (GAPY, TOTAL_H - panel_bottom)]
yaxis_figs = []
for r, (t, b) in enumerate(ya_pads):
    ya = base_fig(YAX_W, t + FH + b, left=YAX_W - YAX_FRAME, top=t, bottom=b, yr=y_lims[r], yloc="left")
    ya.grid.visible = False
    ya.outline_line_color = None
    ay = ya.yaxis[0]
    ay.ticker = FixedTicker(ticks=y_ticks[r])
    ay.formatter = PrintfTickFormatter(format=y_fmt[r])
    ay.major_label_standoff = 2
    style_axis(ay, "14px")
    ay.major_tick_in = YAX_FRAME
    yaxis_figs.append(ya)
yaxis_col = column(*yaxis_figs)

# ---------------- top strips ----------------
top_row = row(*[strip_fig(lab, PAD_L + FW + PAD_R, TOP0 + STRIP_H, left=PAD_L, right=PAD_R, top=TOP0)
                for lab in col_labels])

# ---------------- panel rows ----------------
panel_rows = []
for r in range(4):
    figs = [panel_fig(r, c) for c in range(3)]
    figs.append(strip_fig(row_labels[r], RSW, row_top(r) + FH + row_bottom(r),
                          top=row_top(r), bottom=row_bottom(r), angle=-math.pi / 2))
    panel_rows.append(row(*figs))

# ---------------- x axis title ----------------
grid_w = 3 * (PAD_L + FW + PAD_R)
day_fig = base_fig(grid_w, DAY_H, left=PAD_L, right=PAD_R)
day_fig.grid.visible = False
day_fig.outline_line_color = None
day_fig.text(x=[0.5], y=[0.5], text=["Day"], text_align="center", text_baseline="middle",
             text_font=value(FONT), text_font_size="16px", text_color="black")

middle = column(top_row, *panel_rows, day_fig)

# ---------------- y axis title ----------------
title_fig = base_fig(TITLE_W, TOTAL_H, xr=(0, 1), yr=(0, TOTAL_H))
title_fig.grid.visible = False
title_fig.outline_line_color = None
title_fig.text(x=[0.5], y=[TOTAL_H - (panel_top + panel_bottom) / 2], text=["Proportion Infected"],
               angle=math.pi / 2, text_align="center", text_baseline="middle",
               text_font=value(FONT), text_font_size="16px", text_color="black")

# ---------------- alpha strips ----------------
a1 = strip_fig(alpha_labels[0], 1 + RSW, panel_top + 2 * FH + GAPY, left=1, top=panel_top,
               angle=-math.pi / 2)
a2 = strip_fig(alpha_labels[1], 1 + RSW, GAPY + 2 * FH + GAPY, left=1, top=GAPY,
               angle=-math.pi / 2)
alpha_col = column(a1, a2)

# ---------------- legend (keys drawn in a small pixel-unit figure) ----------------
LEG_W = 850 - TITLE_W - YAX_W - grid_w - RSW - (1 + RSW)
KEY_X, KEY_W, KEY_H, KEY_TOP, LABEL_GAP = 5, 22, 15, 167, 8
lg = base_fig(LEG_W, TOTAL_H, xr=(0, LEG_W), yr=(0, TOTAL_H))
lg.grid.visible = False
lg.outline_line_color = None
for i, s in enumerate(legend_order):
    top = TOTAL_H - (KEY_TOP + i * KEY_H)
    mid = top - KEY_H / 2
    lg.quad(left=[KEY_X], right=[KEY_X + KEY_W], top=[top], bottom=[top - KEY_H],
            fill_color=colors[s], fill_alpha=FILL_ALPHA + 0.05, line_color=None)
    lg.line(x=[KEY_X + 1, KEY_X + KEY_W - 1], y=[mid, mid], line_color=colors[s], line_width=1)
    lg.text(x=[KEY_X + KEY_W + LABEL_GAP], y=[mid], text=[s], text_align="left", text_baseline="middle",
            text_font=value(FONT), text_font_size="17px", text_color="black")

layout = row(title_fig, yaxis_col, middle, alpha_col, lg)

open("out.html", "w").write(file_html(layout, INLINE))
